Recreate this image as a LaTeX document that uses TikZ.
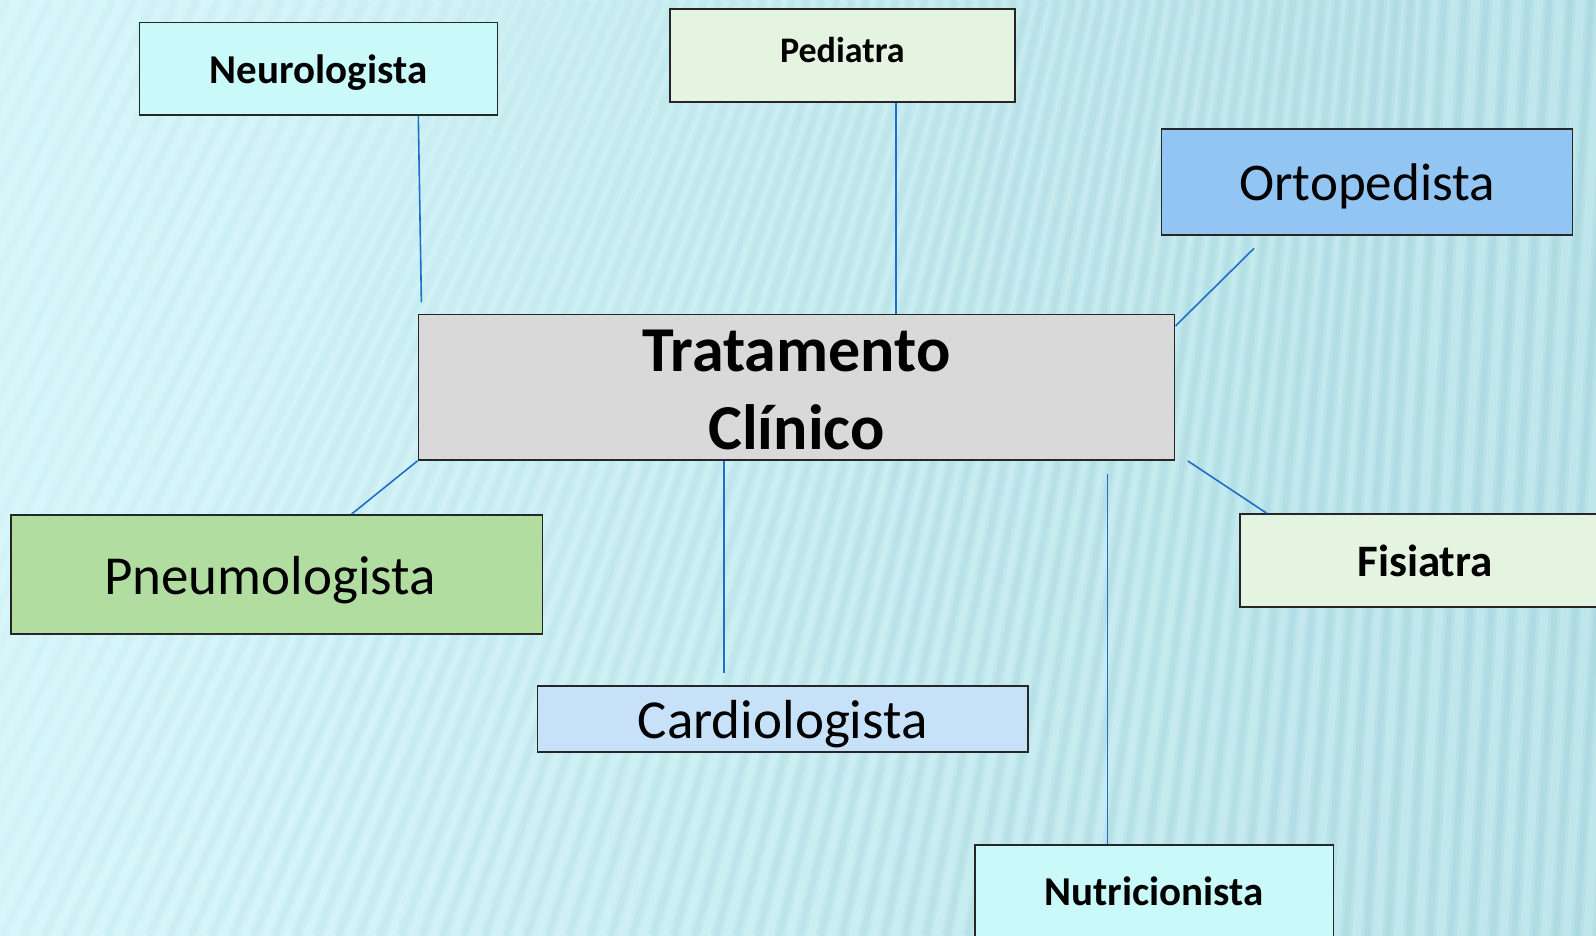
\documentclass[tikz,border=0pt]{standalone}
\usepackage{fontspec}
\setmainfont{Carlito}
\usetikzlibrary{calc}
\definecolor{bgA}{HTML}{D8F7FB}
\definecolor{bgB}{HTML}{BEE6EB}
\definecolor{stripe}{HTML}{96CBD3}
\definecolor{conncol}{HTML}{1F6FC8}
\definecolor{cNeuro}{HTML}{C9F9F9}
\definecolor{cPed}{HTML}{E4F4E0}
\definecolor{cOrto}{HTML}{92C5F2}
\definecolor{cTrat}{HTML}{D9D9D9}
\definecolor{cPneu}{HTML}{B1DDA0}
\definecolor{cCard}{HTML}{C7E1F9}
\newcommand{\shiftv}[2]{\raisebox{#1}[\height][\depth]{#2}}
\tikzset{
  box/.style={draw=black!85, line width=1.6pt, inner sep=0pt, align=center, text=black},
  conn/.style={draw=conncol, line width=1.6pt},
}
\begin{document}
\begin{tikzpicture}[x=1pt,y=-1pt]
\useasboundingbox (0,0) rectangle (1596,936);
\clip (0,0) rectangle (1596,936);
% background
\fill[left color=bgA, right color=bgB] (0,0) rectangle (1596,936);
\foreach \i in {0,...,100} {
  \pgfmathsetmacro\xb{-460+\i*21}
  \pgfmathsetmacro\ln{max(0.06,0.5-0.32*max(\xb,0)/1000)}
  \pgfmathsetmacro\xt{\xb+\ln*936}
  \pgfmathsetmacro\op{0.10+0.30*min(max(\xb,0),1400)/1400}
  \draw[stripe, line width=12pt, opacity=0.45*\op] (\xb,936) -- (\xt,0);
  \draw[stripe, line width=6pt, opacity=0.6*\op] (\xb,936) -- (\xt,0);
}
% nodes
\node[box, fill=cNeuro, minimum width=358pt, minimum height=92.6pt,
      font=\bfseries\fontsize{41}{49}\selectfont] (neuro) at (318.6,68.7) {\shiftv{-4pt}{Neurologista}};
\node[box, fill=cPed, minimum width=345pt, minimum height=92.6pt,
      font=\bfseries\fontsize{36}{43}\selectfont] (ped) at (842.3,55.5) {\shiftv{5pt}{Pediatra}};
\node[box, fill=cOrto, minimum width=411pt, minimum height=105.8pt,
      font=\fontsize{53}{64}\selectfont] (orto) at (1367,182.2) {\shiftv{-4pt}{Ortopedista}};
\node[box, fill=cTrat, minimum width=756.3pt, minimum height=145.5pt,
      font=\bfseries\fontsize{64}{78}\selectfont] (trat) at (796.5,387.3)
      {\shiftv{-3pt}{\parbox{700pt}{\centering Tratamento\\Clínico}}};
\node[box, fill=cPneu, minimum width=531.3pt, minimum height=119pt,
      font=\fontsize{55}{66}\selectfont] (pneu) at (276.9,574.5) {\shiftv{-6pt}{Pneumologista}\hspace*{14pt}};
\node[box, fill=cPed, minimum width=370pt, minimum height=92.7pt,
      font=\bfseries\fontsize{45}{54}\selectfont] (fis) at (1425,560.4) {Fisiatra};
\node[box, fill=cCard, minimum width=490.6pt, minimum height=66pt,
      font=\fontsize{55}{66}\selectfont] (card) at (782.7,719) {\shiftv{-5pt}{Cardiologista}};
\node[box, fill=cNeuro, minimum width=358.4pt, minimum height=92.6pt,
      font=\bfseries\fontsize{41}{49}\selectfont] (nutri) at (1154.2,891.3) {Nutricionista};
% free ends of connectors
\coordinate (nE) at (421.4,302.3);
\coordinate (oS) at (1254,248.4);
\coordinate (cE) at (723.7,672.8);
\coordinate (fS) at (1187.9,461);
\coordinate (uS) at (1107.5,474.3);
% connectors
\draw[conn] ([xshift=99.7pt]neuro.south) -- (nE);
\draw[conn] ([xshift=53.4pt]ped.south) -- ([xshift=53.4pt]ped.south |- trat.north);
\draw[conn] (oS) -- ([yshift=-12.2pt]trat.north east);
\draw[conn] (trat.south west) -- ([xshift=341pt]pneu.north west);
\draw[conn] ([xshift=-72.8pt]trat.south) -- (cE);
\draw[conn] (fS) -- ([xshift=27.5pt]fis.north west);
\draw[conn] (uS) -- (nutri.north -| uS);
\end{tikzpicture}
\end{document}
